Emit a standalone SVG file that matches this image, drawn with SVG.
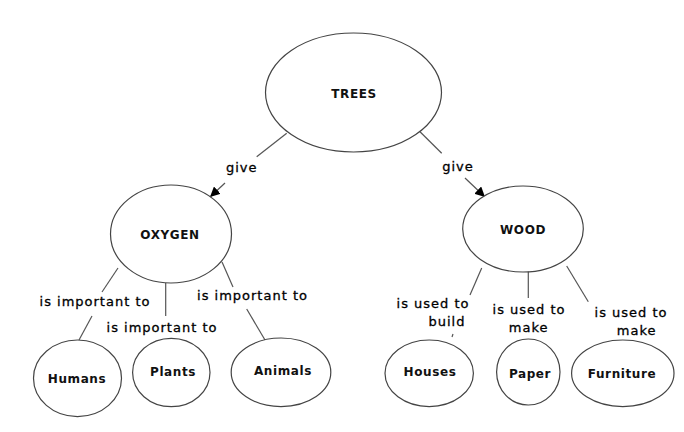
<svg xmlns="http://www.w3.org/2000/svg" width="684" height="432" viewBox="0 0 684 432">
<style>
.node ellipse{fill:#fff;stroke:#444;stroke-width:1.2}
.node text,.lbl{font-family:"DejaVu Sans",Verdana,sans-serif;font-size:12px;font-weight:bold;fill:#111;text-anchor:middle;letter-spacing:0.6px}
.lbl{font-weight:normal;font-size:13px;letter-spacing:1px;fill:#000;stroke:#000;stroke-width:0.3}
.conn line{stroke:#555;stroke-width:1.2}
</style>
<defs>
<marker id="ah" viewBox="0 0 10 10" refX="10" refY="5" markerWidth="10" markerHeight="10" markerUnits="userSpaceOnUse" orient="auto">
<path d="M0,0 L10,5 L0,10 z" fill="#000"/>
</marker>
</defs>
<rect width="684" height="432" fill="#fff"/>
<g id="connectors" class="conn">
<line x1="286.7" y1="133.3" x2="256.7" y2="156.7"/>
<line x1="225" y1="183" x2="210" y2="197" marker-end="url(#ah)"/>
<line x1="420" y1="131.7" x2="441.7" y2="153.3"/>
<line x1="465" y1="178" x2="485" y2="197" marker-end="url(#ah)"/>
<line x1="118" y1="268" x2="102" y2="292"/>
<line x1="92" y1="316" x2="79" y2="340"/>
<line x1="165.7" y1="283" x2="165.7" y2="316"/>
<line x1="222" y1="262" x2="233" y2="287"/>
<line x1="246.7" y1="309" x2="265" y2="340"/>
<line x1="481.7" y1="268" x2="470" y2="295"/>
<line x1="453" y1="334" x2="452" y2="337"/>
<line x1="528.3" y1="271" x2="528.3" y2="298"/>
<line x1="566.7" y1="266" x2="588.3" y2="301.7"/>
</g>
<g class="lbls">
<text class="lbl" x="241.7" y="171.5">give</text>
<text class="lbl" x="458" y="171">give</text>
<text class="lbl" x="95" y="306">is important to</text>
<text class="lbl" x="162" y="332">is important to</text>
<text class="lbl" x="252.5" y="300">is important to</text>
<text class="lbl" x="433" y="307.5">is used to</text>
<text class="lbl" x="447" y="326">build</text>
<text class="lbl" x="529" y="313.5">is used to</text>
<text class="lbl" x="528.7" y="331.5">make</text>
<text class="lbl" x="631" y="317">is used to</text>
<text class="lbl" x="636.7" y="335">make</text>
</g>
<g id="trees" class="node"><ellipse cx="353.5" cy="92.5" rx="88" ry="59.5"/><text x="354" y="97.5">TREES</text></g>
<g id="oxygen" class="node"><ellipse cx="171" cy="234" rx="60.5" ry="49"/><text x="170" y="238.5">OXYGEN</text></g>
<g id="wood" class="node"><ellipse cx="523" cy="229" rx="60.3" ry="43"/><text x="523" y="234">WOOD</text></g>
<g id="humans" class="node"><ellipse cx="77.5" cy="378.3" rx="44" ry="38.3"/><text x="77" y="382.5">Humans</text></g>
<g id="plants" class="node"><ellipse cx="171.3" cy="372.5" rx="38.7" ry="34.2"/><text x="173" y="376">Plants</text></g>
<g id="animals" class="node"><ellipse cx="281" cy="372.3" rx="49.8" ry="34.3"/><text x="283" y="374.5">Animals</text></g>
<g id="houses" class="node"><ellipse cx="429.2" cy="373.3" rx="44.2" ry="33.3"/><text x="430" y="375.5">Houses</text></g>
<g id="paper" class="node"><ellipse cx="528.3" cy="372" rx="31.7" ry="33"/><text x="530" y="377.5">Paper</text></g>
<g id="furniture" class="node"><ellipse cx="622.8" cy="373.3" rx="51.2" ry="33.3"/><text x="622" y="377.5">Furniture</text></g>
</svg>
